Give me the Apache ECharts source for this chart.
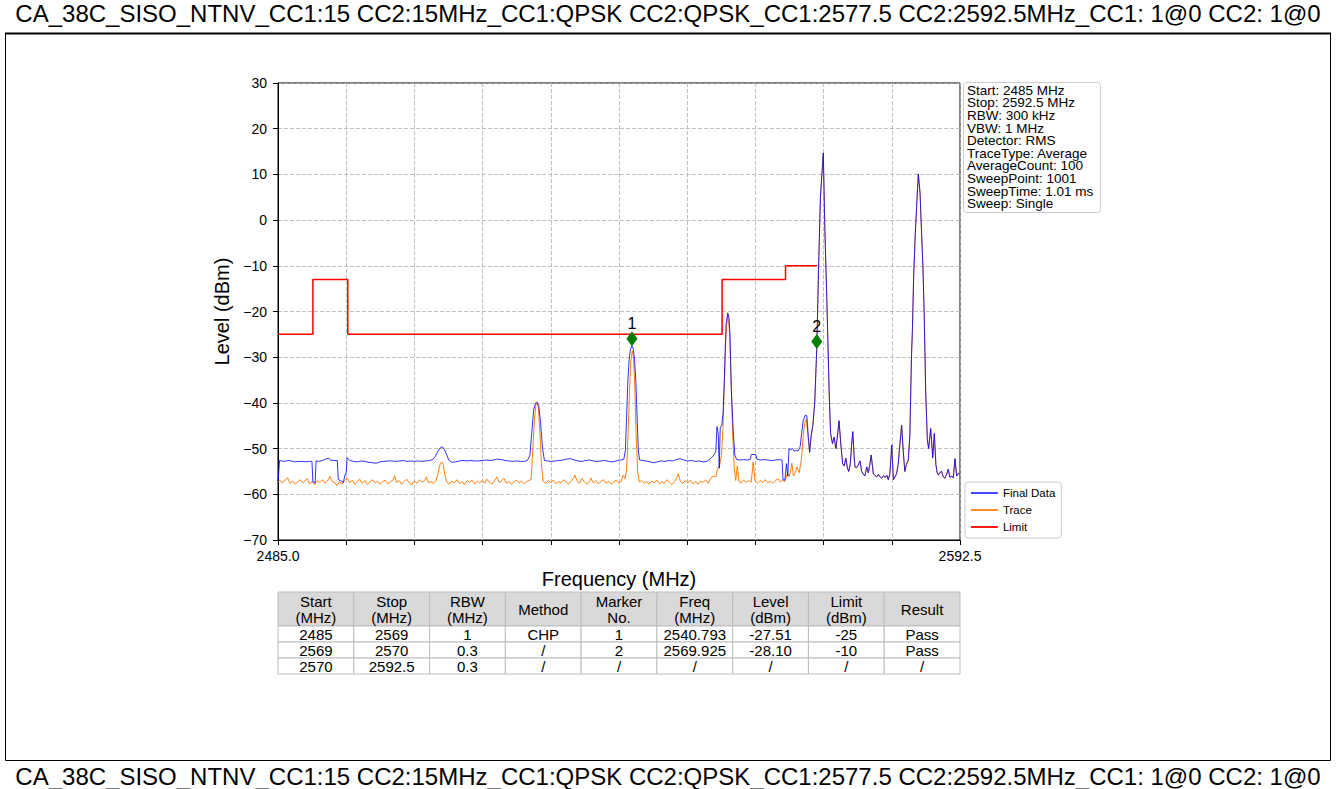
<!DOCTYPE html>
<html>
<head>
<meta charset="utf-8">
<title>CA_38C spectrum emission</title>
<script src="https://cdn.jsdelivr.net/npm/echarts@6/dist/echarts.min.js"></script>
<style>
  html, body { margin: 0; padding: 0; background: #fff; }
  #chart { width: 1336px; height: 789px; }
</style>
</head>
<body>
<div id="chart"></div>
<script>
// ---------- text and sweep settings ----------
const TITLE = 'CA_38C_SISO_NTNV_CC1:15 CC2:15MHz_CC1:QPSK CC2:QPSK_CC1:2577.5 CC2:2592.5MHz_CC1: 1@0 CC2: 1@0';
const START_MHZ = 2485.0;
const STOP_MHZ = 2592.5;
const X_DIVISIONS = 10;
const Y_MIN = -70, Y_MAX = 30, Y_STEP = 10;
const X_NAME = 'Frequency (MHz)';
const Y_NAME = 'Level (dBm)';
const SERIES_NAMES = ['Final Data', 'Trace', 'Limit'];

const INFO_LINES = [
  'Start: 2485 MHz', 'Stop: 2592.5 MHz', 'RBW: 300 kHz', 'VBW: 1 MHz', 'Detector: RMS',
  'TraceType: Average', 'AverageCount: 100', 'SweepPoint: 1001', 'SweepTime: 1.01 ms', 'Sweep: Single'
];

// ---------- measured traces: [frequency MHz, level dBm] ----------
const FINAL_DATA = [
  [2485.0,-57.2],[2485.25,-52.6],[2485.8,-52.8],[2486.3,-52.7],[2486.8,-52.6],[2487.3,-52.8],[2487.8,-52.9],
  [2488.3,-52.8],[2488.8,-52.8],[2489.3,-52.9],[2489.8,-52.8],[2490.35,-52.8],[2490.5,-57.3],[2490.85,-57.5],
  [2491.0,-52.7],[2491.5,-52.8],[2492.0,-52.6],[2492.5,-52.3],[2492.9,-52.1],[2493.3,-52.5],[2493.8,-52.6],
  [2494.35,-52.6],[2494.5,-56.8],[2494.9,-57.0],[2495.3,-57.4],[2495.55,-55.8],[2495.75,-55.2],[2495.9,-52.0],
  [2496.3,-52.6],[2496.9,-52.8],[2497.5,-52.9],[2498.1,-52.7],[2498.7,-52.8],[2499.3,-53.0],[2499.9,-53.1],
  [2500.5,-53.2],[2501.1,-52.9],[2501.7,-52.8],[2502.3,-52.7],[2502.9,-52.7],[2503.5,-52.8],[2504.1,-52.7],
  [2504.7,-52.6],[2505.3,-52.8],[2505.9,-52.7],[2506.5,-52.8],[2507.1,-52.7],[2507.7,-52.8],[2508.3,-52.7],
  [2508.9,-52.6],[2509.4,-52.4],[2509.8,-51.7],[2510.2,-50.6],[2510.6,-49.8],[2510.9,-49.6],[2511.2,-50.1],
  [2511.6,-51.4],[2511.95,-52.6],[2512.4,-53.0],[2513.0,-52.9],[2513.6,-52.7],[2514.2,-52.6],[2514.8,-52.7],
  [2515.4,-52.6],[2516.0,-52.7],[2516.6,-52.7],[2517.2,-52.6],[2517.8,-52.5],[2518.4,-52.6],[2519.0,-52.5],
  [2519.6,-52.3],[2520.2,-52.4],[2520.8,-52.6],[2521.4,-52.7],[2522.0,-52.8],[2522.6,-52.7],[2523.2,-52.8],
  [2523.8,-52.8],[2524.3,-52.6],[2524.7,-51.5],[2525.0,-46.5],[2525.3,-41.5],[2525.6,-40.0],[2525.8,-39.8],
  [2526.1,-40.6],[2526.4,-44.5],[2526.7,-50.0],[2527.0,-52.6],[2527.5,-52.7],[2528.1,-52.8],[2528.7,-52.7],
  [2529.3,-52.6],[2529.9,-52.5],[2530.5,-52.3],[2531.1,-52.2],[2531.7,-52.5],[2532.3,-52.7],[2532.9,-52.8],
  [2533.5,-52.6],[2534.1,-52.5],[2534.7,-52.7],[2535.3,-52.8],[2535.9,-52.7],[2536.5,-52.6],[2537.1,-52.8],
  [2537.7,-52.9],[2538.3,-52.7],[2538.9,-52.5],[2539.5,-52.4],[2539.75,-50.5],[2539.95,-43.0],[2540.15,-35.0],
  [2540.35,-30.5],[2540.55,-28.3],[2540.793,-27.51],[2541.0,-28.2],[2541.2,-30.5],[2541.4,-35.0],[2541.6,-43.0],
  [2541.8,-50.5],[2542.0,-52.5],[2542.5,-52.6],[2543.0,-52.7],[2543.6,-52.9],[2544.2,-53.1],[2544.8,-52.9],
  [2545.4,-52.7],[2546.0,-52.8],[2546.6,-52.6],[2547.2,-52.7],[2547.8,-52.4],[2548.4,-52.2],[2549.0,-52.5],
  [2549.6,-52.7],[2550.2,-52.6],[2550.8,-52.8],[2551.4,-52.7],[2552.0,-52.9],[2552.6,-52.8],[2553.1,-52.3],
  [2553.6,-51.6],[2554.0,-50.7],[2554.2,-45.2],[2554.4,-47.0],[2554.55,-54.3],[2554.7,-45.5],[2554.95,-44.9],
  [2555.15,-42.3],[2555.35,-35.0],[2555.5,-28.0],[2555.65,-22.5],[2555.9,-20.3],[2556.1,-21.5],[2556.25,-25.0],
  [2556.45,-37.0],[2556.75,-46.0],[2557.0,-51.4],[2557.3,-52.4],[2557.8,-52.5],[2558.4,-52.4],[2559.0,-52.5],
  [2559.45,-52.3],[2559.6,-51.3],[2560.3,-51.3],[2560.5,-52.3],[2561.0,-52.5],[2561.6,-52.4],[2562.2,-52.5],
  [2562.8,-52.6],[2563.4,-52.5],[2564.0,-52.4],[2564.45,-52.5],[2564.6,-56.8],[2564.9,-56.9],[2565.15,-53.3],
  [2565.35,-56.0],[2565.55,-50.0],[2565.8,-50.3],[2566.1,-50.0],[2566.4,-50.6],[2566.7,-50.4],[2567.0,-50.5],
  [2567.3,-49.6],[2567.55,-46.5],[2567.8,-43.8],[2568.1,-42.7],[2568.35,-42.8],[2568.6,-47.5],[2568.8,-50.8],
  [2569.05,-47.0],[2569.3,-45.0],[2569.6,-40.0],[2569.925,-28.1],[2570.2,-11.0],[2570.5,5.0],[2570.95,14.7],
  [2571.2,-2.0],[2571.5,-17.0],[2571.9,-38.7],[2572.1,-46.7],[2572.4,-48.9],[2572.65,-47.5],[2572.95,-50.0],
  [2573.2,-47.0],[2573.43,-43.9],[2573.75,-49.6],[2574.0,-53.3],[2574.25,-53.8],[2574.5,-52.1],[2574.75,-54.2],
  [2574.95,-55.0],[2575.2,-53.5],[2575.4,-49.5],[2575.6,-46.3],[2575.8,-51.5],[2575.95,-54.0],[2576.2,-54.2],
  [2576.45,-53.6],[2576.74,-52.7],[2577.0,-55.0],[2577.25,-55.6],[2577.5,-56.0],[2577.8,-54.0],[2578.05,-55.3],
  [2578.3,-53.4],[2578.5,-51.4],[2578.84,-55.5],[2579.1,-55.9],[2579.37,-56.2],[2579.65,-55.6],[2579.9,-56.2],
  [2580.16,-56.5],[2580.45,-55.9],[2580.7,-56.3],[2580.95,-55.8],[2581.2,-56.8],[2581.45,-55.5],[2581.74,-49.2],
  [2582.0,-56.8],[2582.25,-56.2],[2582.5,-55.5],[2582.75,-53.5],[2583.0,-49.5],[2583.3,-44.9],[2583.55,-50.5],
  [2583.8,-55.0],[2584.05,-53.5],[2584.35,-52.5],[2584.6,-47.0],[2584.85,-30.0],[2585.0,-24.0],[2585.2,-12.0],
  [2585.45,-3.0],[2585.7,4.0],[2585.93,10.1],[2586.2,6.0],[2586.45,-3.0],[2586.65,-10.0],[2586.85,-20.0],
  [2587.1,-38.0],[2587.35,-48.0],[2587.55,-50.0],[2587.88,-45.6],[2588.2,-52.0],[2588.45,-46.7],[2588.7,-53.5],
  [2588.9,-55.3],[2589.1,-55.8],[2589.35,-55.2],[2589.6,-55.0],[2589.85,-56.1],[2590.1,-56.5],[2590.4,-55.6],
  [2590.65,-54.5],[2590.9,-56.3],[2591.2,-56.0],[2591.45,-56.4],[2591.7,-52.2],[2591.98,-56.0],[2592.25,-55.4],
  [2592.5,-55.6]
];

// Trace readings below 2569 MHz; above that the trace lies on the final data
const TRACE_LOW = [
  [2485.0,-57.2],[2485.3,-57.0],[2485.7,-57.5],[2486.1,-56.9],[2486.5,-56.4],[2486.9,-57.6],[2487.3,-57.1],
  [2487.7,-57.8],[2488.1,-57.3],[2488.5,-56.8],[2488.9,-57.5],[2489.3,-57.0],[2489.6,-56.6],[2490.0,-57.7],
  [2490.4,-57.2],[2490.8,-57.9],[2491.2,-57.0],[2491.6,-57.4],[2492.0,-56.8],[2492.4,-57.6],[2492.8,-57.1],
  [2493.2,-56.1],[2493.6,-57.3],[2494.0,-57.5],[2494.3,-58.1],[2494.7,-57.2],[2495.1,-57.8],[2495.5,-57.0],
  [2495.9,-56.4],[2496.3,-57.5],[2496.7,-56.9],[2497.1,-57.8],[2497.5,-57.2],[2497.9,-56.7],[2498.3,-57.6],
  [2498.7,-57.0],[2499.1,-57.9],[2499.5,-57.3],[2499.9,-56.8],[2500.3,-57.5],[2500.7,-57.1],[2501.1,-57.8],
  [2501.5,-57.2],[2501.9,-56.9],[2502.3,-57.7],[2502.7,-57.3],[2503.1,-56.9],[2503.4,-55.9],[2503.7,-57.4],
  [2504.1,-57.0],[2504.5,-57.8],[2504.9,-57.2],[2505.3,-56.7],[2505.7,-57.5],[2506.1,-57.9],[2506.5,-57.1],
  [2506.9,-57.6],[2507.3,-56.8],[2507.7,-57.4],[2508.1,-57.0],[2508.4,-56.2],[2508.7,-57.5],[2509.1,-57.2],
  [2509.5,-57.6],[2509.9,-57.0],[2510.2,-55.5],[2510.5,-53.6],[2510.8,-52.9],[2511.05,-53.5],[2511.3,-55.8],
  [2511.6,-57.3],[2512.0,-57.8],[2512.4,-57.1],[2512.8,-57.5],[2513.2,-56.8],[2513.6,-57.6],[2514.0,-57.2],
  [2514.4,-57.9],[2514.8,-57.0],[2515.2,-57.4],[2515.6,-56.9],[2516.0,-57.7],[2516.4,-57.2],[2516.8,-57.5],
  [2517.2,-57.0],[2517.6,-57.6],[2517.9,-56.7],[2518.3,-57.3],[2518.7,-57.8],[2519.1,-57.1],[2519.5,-56.2],
  [2519.9,-57.4],[2520.3,-57.0],[2520.6,-56.5],[2521.0,-57.6],[2521.4,-57.1],[2521.8,-57.8],[2522.2,-57.3],
  [2522.6,-56.9],[2523.0,-57.5],[2523.4,-57.1],[2523.8,-57.7],[2524.2,-57.2],[2524.6,-56.9],[2524.9,-56.8],
  [2525.15,-50.5],[2525.4,-44.0],[2525.65,-40.5],[2525.85,-40.0],[2526.05,-41.0],[2526.3,-47.0],[2526.55,-54.0],
  [2526.8,-57.2],[2527.2,-57.6],[2527.6,-57.0],[2528.0,-57.4],[2528.4,-56.9],[2528.8,-57.7],[2529.2,-57.2],
  [2529.6,-57.5],[2530.0,-56.8],[2530.4,-57.3],[2530.8,-57.8],[2531.2,-57.1],[2531.6,-56.5],[2531.8,-55.8],
  [2532.1,-57.0],[2532.5,-57.6],[2532.9,-56.5],[2533.3,-57.3],[2533.7,-57.8],[2534.1,-57.2],[2534.3,-56.4],
  [2534.7,-57.5],[2535.1,-57.0],[2535.5,-57.7],[2535.9,-57.2],[2536.3,-56.8],[2536.7,-57.6],[2537.1,-57.1],
  [2537.5,-57.8],[2537.9,-57.3],[2538.3,-56.9],[2538.7,-57.6],[2539.1,-57.2],[2539.4,-55.8],[2539.7,-56.6],
  [2539.95,-54.5],[2540.15,-48.0],[2540.4,-38.0],[2540.6,-31.0],[2540.85,-28.6],[2541.05,-30.0],[2541.25,-37.0],
  [2541.45,-47.0],[2541.7,-55.0],[2541.95,-57.3],[2542.3,-57.0],[2542.7,-57.6],[2543.1,-57.2],[2543.5,-57.8],
  [2543.9,-57.1],[2544.3,-57.5],[2544.7,-56.9],[2545.1,-57.7],[2545.5,-57.2],[2545.9,-57.6],[2546.3,-56.8],
  [2546.7,-57.4],[2547.1,-57.9],[2547.5,-57.2],[2547.8,-56.6],[2548.1,-55.5],[2548.4,-57.1],[2548.8,-57.6],
  [2549.2,-57.0],[2549.6,-57.5],[2550.0,-56.9],[2550.4,-57.7],[2550.8,-57.2],[2551.2,-57.8],[2551.6,-57.1],
  [2552.0,-57.4],[2552.4,-56.9],[2552.8,-57.6],[2553.2,-56.5],[2553.6,-56.0],[2554.0,-56.2],[2554.3,-54.3],
  [2554.6,-53.8],[2554.9,-51.5],[2555.15,-45.0],[2555.4,-34.0],[2555.65,-24.0],[2555.9,-20.8],[2556.15,-24.0],
  [2556.4,-34.0],[2556.65,-46.0],[2556.9,-54.0],[2557.15,-57.0],[2557.4,-53.8],[2557.65,-57.2],[2558.0,-57.5],
  [2558.4,-56.9],[2558.8,-57.4],[2559.2,-57.0],[2559.6,-57.3],[2559.9,-52.9],[2560.2,-57.1],[2560.6,-57.6],
  [2561.0,-57.0],[2561.4,-57.4],[2561.8,-56.8],[2562.2,-57.5],[2562.6,-57.1],[2563.0,-57.6],[2563.4,-57.0],
  [2563.8,-56.6],[2564.2,-57.3],[2564.5,-56.9],[2564.9,-57.2],[2565.3,-55.4],[2565.6,-56.2],[2566.0,-53.2],
  [2566.25,-56.0],[2566.55,-55.2],[2566.8,-54.0],[2567.15,-55.3],[2567.5,-52.4],[2567.8,-47.0],[2568.0,-44.5],
  [2568.3,-43.5],[2568.55,-47.5],[2568.8,-50.8]
];
const TRACE_JOIN_MHZ = 2569.0;

// ---------- limit mask (step line) ----------
const LIMIT_FREQ  = [2485, 2490.5, 2490.5, 2496, 2496, 2555, 2555, 2565, 2565, 2570];
const LIMIT_LEVEL = [-25,  -25,    -13,    -13,  -25,  -25,  -13,  -13,  -10,  -10];

// ---------- markers ----------
const MARKER_NO    = ['1', '2'];
const MARKER_FREQ  = [2540.793, 2569.925];
const MARKER_LEVEL = [-27.51, -28.10];

// ---------- result table ----------
const TABLE_HEADER = ['Start\n(MHz)', 'Stop\n(MHz)', 'RBW\n(MHz)', 'Method', 'Marker\nNo.',
                      'Freq\n(MHz)', 'Level\n(dBm)', 'Limit\n(dBm)', 'Result'];
const SEG_START  = ['2485', '2569', '2570'];
const SEG_STOP   = ['2569', '2570', '2592.5'];
const SEG_RBW    = ['1', '0.3', '0.3'];
const SEG_METHOD = ['CHP', '/', '/'];
const SEG_MARKER = [0, 1, null];
const SEG_LIMIT  = ['-25', '-10', '/'];
const SEG_RESULT = ['Pass', 'Pass', '/'];

// ---------- drawing ----------
const FONT = '"Liberation Sans", Arial, Helvetica, sans-serif';
const SPAN = STOP_MHZ - START_MHZ;
const toXY = p => [p[0] - START_MHZ, p[1]];
const TRACE = TRACE_LOW.concat(FINAL_DATA.filter(p => p[0] >= TRACE_JOIN_MHZ));
const minus = s => String(s).replace('-', '\u2212');

// layout of plot, table and boxes (pixels)
const PLOT = { left: 278, right: 960, top: 83, bottom: 540 };
const TBL = { left: 278, right: 960, top: 592, headH: 34, rowH: 16 };

const tableRows = SEG_START.map((s, i) => {
  const m = SEG_MARKER[i];
  return [
    s, SEG_STOP[i], SEG_RBW[i], SEG_METHOD[i],
    m === null ? '/' : MARKER_NO[m],
    m === null ? '/' : MARKER_FREQ[m].toFixed(3),
    m === null ? '/' : MARKER_LEVEL[m].toFixed(2),
    SEG_LIMIT[i], SEG_RESULT[i]
  ];
});

const graphics = [];
// banner text above and below the framed area
[13, 776].forEach(y => graphics.push({
  type: 'text', x: 668, y: y, z: 10,
  style: { text: TITLE, fontSize: 24, fontFamily: FONT, fill: '#000', align: 'center', verticalAlign: 'middle' }
}));
graphics.push({ type: 'rect', z: 10, shape: { x: 5.5, y: 33.5, width: 1325, height: 727 },
  style: { fill: 'none', stroke: '#000', lineWidth: 1 } });
graphics.push({ type: 'line', z: 10, shape: { x1: 5, y1: 33.5, x2: 1331, y2: 33.5 },
  style: { stroke: '#000', lineWidth: 2 } });

// sweep settings box
graphics.push({ type: 'rect', z: 10, shape: { x: 963.5, y: 82.5, width: 137, height: 130, r: 3 },
  style: { fill: '#fff', stroke: '#cccccc', lineWidth: 1 } });
graphics.push({ type: 'text', z: 11, x: 967, y: 84,
  style: { text: INFO_LINES.join('\n'), fontSize: 13.5, lineHeight: 12.6, fontFamily: FONT, fill: '#000',
           align: 'left', verticalAlign: 'top' } });

// result table
const colW = (TBL.right - TBL.left) / TABLE_HEADER.length;
TABLE_HEADER.forEach((h, c) => {
  const x = TBL.left + c * colW;
  graphics.push({ type: 'rect', z: 10, shape: { x: x, y: TBL.top, width: colW, height: TBL.headH },
    style: { fill: '#d9d9d9', stroke: '#bdbdbd', lineWidth: 1 } });
  graphics.push({ type: 'text', z: 11, x: x + colW / 2, y: TBL.top + TBL.headH / 2,
    style: { text: h, fontSize: 15, lineHeight: 16, fontFamily: FONT, fill: '#000', align: 'center', verticalAlign: 'middle' } });
});
tableRows.forEach((row, r) => {
  const y = TBL.top + TBL.headH + r * TBL.rowH;
  row.forEach((cell, c) => {
    const x = TBL.left + c * colW;
    graphics.push({ type: 'rect', z: 10, shape: { x: x, y: y, width: colW, height: TBL.rowH },
      style: { fill: '#fff', stroke: '#bdbdbd', lineWidth: 1 } });
    graphics.push({ type: 'text', z: 11, x: x + colW / 2, y: y + TBL.rowH / 2,
      style: { text: cell, fontSize: 15, fontFamily: FONT, fill: '#000', align: 'center', verticalAlign: 'middle' } });
  });
});

const chart = echarts.init(document.getElementById('chart'), null, { renderer: 'svg', width: 1336, height: 789 });
const axisCommon = {
  type: 'value',
  nameLocation: 'middle',
  nameTextStyle: { fontSize: 20, color: '#000', fontFamily: FONT },
  axisLine: { show: true, onZero: false, lineStyle: { color: '#000', width: 1 } },
  axisTick: { show: true, inside: false, length: 5, lineStyle: { color: '#000', width: 1 } },
  splitLine: { show: true, lineStyle: { color: '#b0b0b0', width: 0.8, type: [4, 2] } }
};

chart.setOption({
  animation: false,
  backgroundColor: '#fff',
  textStyle: { fontFamily: FONT },
  grid: {
    left: PLOT.left, right: 1336 - PLOT.right, top: PLOT.top, bottom: 789 - PLOT.bottom,
    show: true, borderColor: '#000', borderWidth: 1, containLabel: false, outerBoundsMode: 'none'
  },
  xAxis: Object.assign({}, axisCommon, {
    min: 0, max: SPAN, interval: SPAN / X_DIVISIONS,
    name: X_NAME, nameGap: 29,
    axisLabel: {
      margin: 9, fontSize: 14, color: '#000', fontFamily: FONT, showMinLabel: true, showMaxLabel: true, hideOverlap: false,
      formatter: v => (Math.abs(v) < 1e-6 || Math.abs(v - SPAN) < 1e-6) ? (START_MHZ + v).toFixed(1) : ''
    }
  }),
  yAxis: Object.assign({}, axisCommon, {
    min: Y_MIN, max: Y_MAX, interval: Y_STEP,
    name: Y_NAME, nameGap: 46,
    axisLabel: { margin: 11, fontSize: 14, color: '#000', fontFamily: FONT, formatter: v => minus(v) }
  }),
  legend: {
    data: SERIES_NAMES, orient: 'vertical', left: 965, top: 482,
    padding: [5, 6, 5, 5], itemGap: 5, itemWidth: 27, itemHeight: 12,
    textStyle: { fontSize: 11.5, lineHeight: 12, color: '#000', fontFamily: FONT },
    lineStyle: { width: 1.8 },
    itemStyle: { opacity: 0 },
    backgroundColor: '#fff', borderColor: '#cccccc', borderWidth: 1, borderRadius: 3,
    selectedMode: false
  },
  series: [
    { name: SERIES_NAMES[0], type: 'line', data: FINAL_DATA.map(toXY), symbol: 'none', z: 4,
      lineStyle: { color: '#0000ff', width: 1, opacity: 0.8 }, itemStyle: { color: '#0000ff' } },
    { name: SERIES_NAMES[1], type: 'line', data: TRACE.map(toXY), symbol: 'none', z: 3,
      lineStyle: { color: '#ff7f0e', width: 1 }, itemStyle: { color: '#ff7f0e' } },
    { name: SERIES_NAMES[2], type: 'line', data: LIMIT_FREQ.map((f, i) => [f - START_MHZ, LIMIT_LEVEL[i]]),
      symbol: 'none', z: 5, lineStyle: { color: '#ff0000', width: 1.5 }, itemStyle: { color: '#ff0000' } },
    { type: 'scatter', z: 6, data: MARKER_FREQ.map((f, i) => [f - START_MHZ, MARKER_LEVEL[i]]),
      symbol: 'diamond', symbolSize: [11, 15], symbolOffset: [0, -7],
      itemStyle: { color: '#008000', opacity: 1 },
      label: { show: true, position: 'top', distance: 0, fontSize: 16, color: '#000', opacity: 1, fontFamily: FONT,
               formatter: p => MARKER_NO[p.dataIndex] } }
  ],
  graphic: graphics
});
</script>
</body>
</html>
